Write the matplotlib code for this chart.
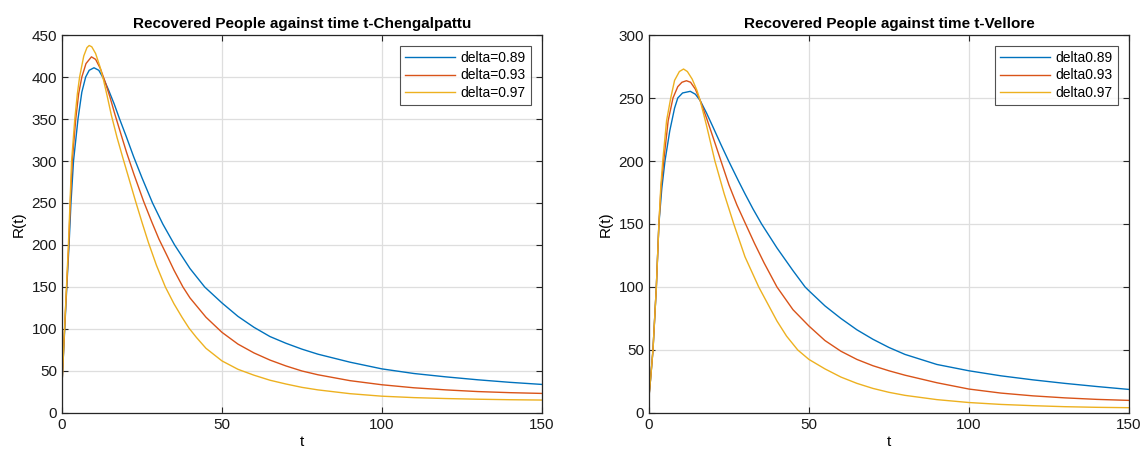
import matplotlib
matplotlib.use("Agg")
import matplotlib.pyplot as plt

plt.rcParams["font.family"] = ["Liberation Sans", "DejaVu Sans"]

# MATLAB default line colours
colors = ["#0072BD", "#D95319", "#EDB120"]

# ---- Chengalpattu ----
chen_t_089 = [0, 0.2, 0.85, 1.5, 2.2, 2.8, 3.6, 5.0, 6.2, 7.4, 8.5, 10, 11.5, 13, 14.5,
              16.3, 18, 20, 22.4, 25, 28.3, 31.5, 35.2, 40, 44.6, 50, 55, 60, 65, 70,
              75, 80, 90, 100, 110, 120, 130, 140, 150]
chen_r_089 = [34, 50, 100, 150, 200, 250, 300, 350, 382, 400, 408, 411, 408, 398, 385,
              368, 350, 330, 305, 280, 250, 225, 200, 172, 150, 131, 115, 102, 91, 83,
              76, 70, 60.5, 52.5, 47, 43, 39.5, 36.5, 34]

chen_t_093 = [0, 0.2, 0.8, 1.45, 2.1, 2.6, 3.2, 4.3, 5.2, 6.2, 7.5, 9.2, 10.5, 12, 13.5,
              15, 16.5, 18.5, 20.2, 22.5, 25.5, 28, 30.3, 33, 35, 37.8, 40, 45, 50, 55,
              60, 65, 70, 75, 80, 90, 100, 110, 120, 130, 140, 150]
chen_r_093 = [34, 50, 100, 150, 200, 250, 300, 350, 380, 400, 416, 424, 421, 410, 394,
              376, 356, 331, 310, 284, 252, 228, 207, 186, 170, 150, 137, 114, 96, 82,
              71.5, 63, 56, 50, 45.5, 38.5, 33.6, 30, 27.5, 25.5, 24.2, 23.3]

chen_t_097 = [0, 0.2, 0.8, 1.4, 2.0, 2.5, 3.0, 4.0, 4.8, 5.5, 6.8, 7.8, 8.5, 9.3, 10.5,
              11.8, 13, 14.2, 15.4, 17.2, 19, 21, 23, 25, 27, 29.5, 32.3, 35, 37.5,
              39.7, 42, 45, 50, 55, 60, 65, 70, 75, 80, 90, 100, 110, 120, 130, 140, 150]
chen_r_097 = [34, 50, 100, 150, 200, 250, 300, 350, 380, 400, 425, 435, 437.5, 436, 428,
              413, 396, 376, 355, 328, 304, 278, 252, 227, 203, 176, 150, 130, 114,
              101, 90, 77, 62, 52, 45, 39, 34.5, 30.5, 27.5, 23, 20, 18.3, 17.2, 16.4,
              15.8, 15.4]

# ---- Vellore ----
vel_t_089 = [0, 0.5, 1.25, 2.3, 3.1, 4.0, 5.0, 6.5, 8.0, 9.0, 10.5, 12.9, 14.5, 16,
             18, 20, 22.5, 24.9, 28, 30, 32.5, 35.2, 40, 45, 48.8, 50, 55, 60, 65, 70,
             75, 80, 90, 100, 110, 120, 130, 140, 150]
vel_r_089 = [13, 27, 50, 100, 150, 178, 200, 224, 242, 250, 254, 255.3, 253, 248,
             238, 227, 213, 200, 184, 174, 162, 150, 131, 113, 100, 97, 85, 75, 66,
             58.5, 52, 46.5, 38.5, 33.5, 29.5, 26.3, 23.5, 21, 18.7]

vel_t_093 = [0, 0.5, 1.25, 2.3, 3.1, 3.8, 4.6, 6.0, 7.5, 9.0, 10.3, 11.7, 13, 14.5,
             16, 18, 20, 22.5, 25, 27.5, 30.2, 33, 36, 40, 45, 50, 55, 60, 65, 70, 75,
             80, 90, 100, 110, 120, 130, 140, 150]
vel_r_093 = [13, 27, 50, 100, 150, 180, 200, 232, 250, 259, 262.5, 263.7, 262.5, 257,
             248, 234, 219, 200, 181, 165, 150, 134.5, 119, 100, 82, 69, 57.5, 49, 42.5,
             37.5, 33.5, 30, 24, 19, 15.8, 13.6, 12, 10.8, 10]

vel_t_097 = [0, 0.5, 1.25, 2.3, 3.1, 3.7, 4.3, 5.5, 6.8, 8.0, 9.5, 10.8, 12, 13.5,
             15, 16, 18, 20.6, 23.5, 26.5, 30, 34.3, 40, 43, 46.5, 50, 55, 60, 65, 70,
             75, 80, 90, 100, 110, 120, 130, 140, 150]
vel_r_097 = [13, 27, 50, 100, 150, 180, 200, 232, 250, 264, 271, 273, 271, 265,
             256, 248, 228, 200, 174, 150, 124, 100, 73, 61, 50, 42.5, 35, 28.5, 23.5,
             19.5, 16.4, 14, 10.6, 8.3, 6.8, 5.8, 5, 4.5, 4.2]

chen_labels = ["delta=0.89", "delta=0.93", "delta=0.97"]
vel_labels = ["delta0.89", "delta0.93", "delta0.97"]

panels = [
    ("Recovered People against time t-Chengalpattu",
     [(chen_t_089, chen_r_089), (chen_t_093, chen_r_093), (chen_t_097, chen_r_097)],
     chen_labels, 450),
    ("Recovered People against time t-Vellore",
     [(vel_t_089, vel_r_089), (vel_t_093, vel_r_093), (vel_t_097, vel_r_097)],
     vel_labels, 300),
]

fig = plt.figure(figsize=(11.46, 4.57), dpi=100)
rects = [[0.0541, 0.0963, 0.4188, 0.8271], [0.5663, 0.0963, 0.4188, 0.8271]]

axis_col = "#262626"
for rect, (title, series, labels, ymax) in zip(rects, panels):
    ax = fig.add_axes(rect)
    for (t, r), c, lab in zip(series, colors, labels):
        ax.plot(t, r, color=c, linewidth=1.0, label=lab)
    ax.set_xlim(0, 150)
    ax.set_ylim(0, ymax)
    ax.set_xticks(range(0, 151, 50))
    ax.set_yticks(range(0, ymax + 1, 50))
    ax.grid(True, color="#dedede", linewidth=0.9)
    ax.set_axisbelow(True)
    ax.tick_params(direction="in", top=True, right=True, labelsize=11,
                   color=axis_col, labelcolor="#1a1a1a", length=4, width=0.8)
    for s in ax.spines.values():
        s.set_color(axis_col)
        s.set_linewidth(0.9)
    ax.set_title(title, fontsize=11, fontweight="bold", pad=5)
    ax.set_xlabel("t", fontsize=11, labelpad=2)
    ax.set_ylabel("R(t)", fontsize=11, labelpad=4)
    leg = ax.legend(loc="upper right", fontsize=10, frameon=True, fancybox=False,
                    handlelength=3.6, handletextpad=0.4, borderpad=0.35,
                    labelspacing=0.25, borderaxespad=0.8)
    leg.get_frame().set_edgecolor("#262626")
    leg.get_frame().set_linewidth(0.8)

fig.savefig("out.png", dpi=100)
